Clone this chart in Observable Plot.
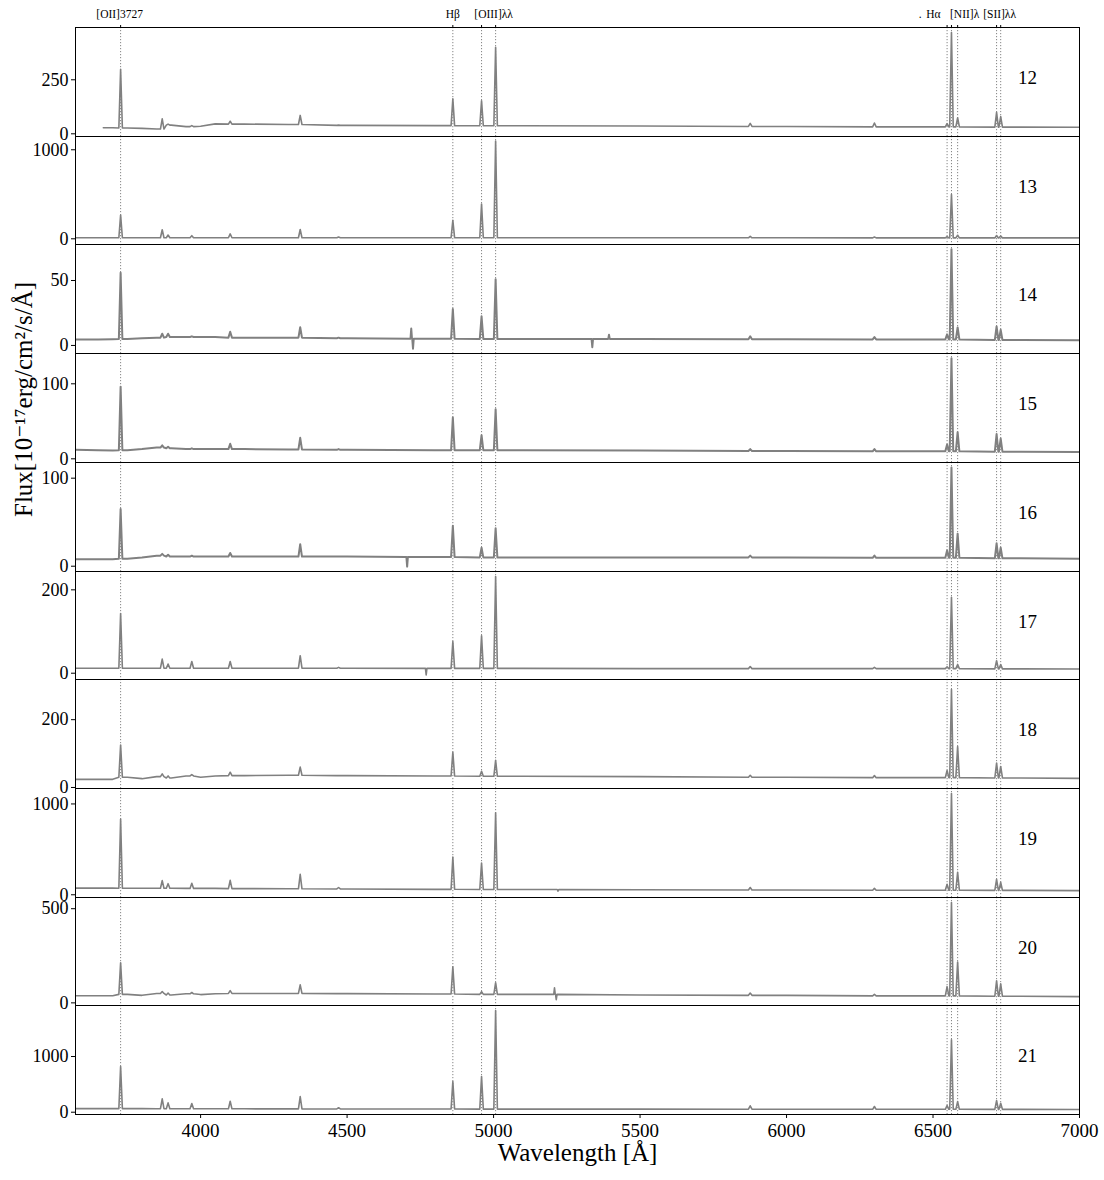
<!DOCTYPE html>
<html><head><meta charset="utf-8">
<script src="https://cdn.jsdelivr.net/npm/d3@7"></script>
<script src="https://cdn.jsdelivr.net/npm/@observablehq/plot@0.6"></script>
<style>
body{margin:0;background:#fff;}
#chart{position:relative;width:1104px;height:1180px;background:#fff;}
#chart svg{position:absolute;left:0;overflow:visible;}
</style></head><body><div id="chart"></div>
<script>
// ---------------- data ----------------
const panelNames = ["12","13","14","15","16","17","18","19","20","21"];
const xTicks = [4000, 4500, 5000, 5500, 6000, 6500, 7000];
const yTicks = [[0,250],[0,1000],[0,50],[0,100],[0,100],[0,200],[0,200],[0,1000],[0,500],[0,1000]];
const yDomains = [[-12.5,492],[-64,1149],[-6.2,77.7],[-4.9,140.4],[-6,117.8],[-15.1,244],[-3,318.5],[-30,1170],[-14,559.5],[-41,1916]];
const markerWaves = [3727, 4861, 4959, 5007, 6548, 6563, 6584, 6717, 6731];
const spectrumStart = [3668, 3573, 3573, 3573, 3573, 3573, 3573, 3573, 3573, 3573];
const contWaves = [3573, 3650, 3700, 3750, 3800, 3850, 3900, 3950, 4000, 4050, 4150, 4300, 4500, 4800, 5100, 5500, 6000, 6500, 6800, 7000];
const contFlux = [
  [null, null, 28, 27, 25, 22, 40, 33, 35, 46, 45, 43, 39, 38, 37, 36, 34, 32, 31, 30],
  [12, 12, 12, 12, 12, 12, 12, 12, 12, 12, 12, 12, 12, 12, 12, 11, 11, 10, 10, 10],
  [4.5, 4.5, 4.8, 5, 5.5, 6, 6.5, 6.5, 6.5, 6.5, 6, 6, 5.5, 5.2, 5, 5, 4.8, 4.6, 4.2, 4],
  [12, 11.5, 11, 11.5, 13, 15, 14, 13, 13, 13, 13, 12.5, 12, 11.5, 11.5, 11, 10.5, 10, 9.5, 9],
  [8, 8, 8, 8.5, 10, 12, 11, 11, 11, 11, 11, 11, 11, 10.5, 10, 10, 10, 9.5, 9, 8.5],
  [12, 12, 12, 12, 12, 12, 12, 12, 12, 12, 12, 12, 12, 11.5, 11.5, 11, 11, 11, 10.5, 10],
  [24, 24, 24, 30, 26, 32, 28, 34, 30, 34, 35, 36, 35, 34, 33, 32, 30, 29, 28, 27],
  [73, 73, 73, 72, 72, 72, 72, 70, 70, 70, 68, 66, 64, 60, 58, 55, 52, 50, 48, 46],
  [38, 38, 38, 45, 40, 50, 42, 48, 44, 48, 50, 50, 49, 47, 45, 42, 40, 37, 35, 33],
  [65, 65, 65, 64, 64, 63, 63, 62, 62, 61, 61, 60, 59, 58, 56, 55, 54, 52, 51, 50]
];
const lineWaves = [3727, 3869, 3889, 3970, 4101, 4340, 4471, 4861, 4959, 5007, 5876, 6300, 6548, 6563, 6584, 6717, 6731];
const linePeaks = [
  [298, 69, 45, 38, 58, 85, 40, 162, 153, 400, 48, 50, 47, 469, 74, 99, 80],
  [268, 102, 42, 35, 55, 104, 20, 208, 390, 1098, 28, 20, 25, 498, 40, 36, 30],
  [56, 9, 9, 7, 10.5, 14, 6, 28, 22.5, 51, 7, 6.4, 8.5, 74, 13.8, 14.6, 12],
  [96, 18, 16, 14, 20, 28, 13, 55, 31.5, 66, 13, 13, 19, 134, 35.5, 33, 27],
  [65, 14, 13, 12, 15, 25, 11, 46, 21, 43, 12, 12, 18, 112, 37, 26, 21],
  [143, 34, 22, 28, 28, 42, 14, 76, 90, 232, 16, 14, 15, 182, 21, 30, 21],
  [125, 40, 34, 38, 45, 60, 35, 104, 48, 80, 36, 35, 50, 289, 121, 72, 62],
  [833, 156, 122, 126, 159, 226, 80, 414, 348, 903, 80, 70, 115, 1115, 248, 170, 137],
  [213, 60, 52, 55, 65, 96, 50, 191, 59, 107, 52, 45, 86, 533, 217, 117, 101],
  [820, 240, 168, 155, 197, 282, 80, 550, 640, 1826, 115, 102, 120, 1300, 190, 208, 160]
];
// artefacts (spikes / dips)
const extraPanel = [2, 2, 2, 2, 4, 5, 7, 8, 8];
const extraWave  = [4719, 4725, 5337, 5394, 4705, 4770, 5220, 5208, 5214];
const extraFlux  = [13, -2.5, -1.3, 8.2, -0.4, -4, 40, 80, 17];
const yLabel = "Flux[10⁻¹⁷erg/cm²/s/Å]";
const xLabel = "Wavelength [Å]";
const labelWave = 6790;

// ---------------- build ----------------
function nearestCont(k, w) {
  let best = null, bd = Infinity;
  contWaves.forEach((cw, i) => {
    const v = contFlux[k][i];
    if (v == null) return;
    const d = Math.abs(cw - w);
    if (d < bd) { bd = d; best = v; }
  });
  return best;
}
function spectrum(k) {
  const s = spectrumStart[k];
  const pts = [];
  pts.push({w: s, f: nearestCont(k, s)});
  contWaves.forEach((cw, i) => {
    const v = contFlux[k][i];
    if (v != null && cw > s) pts.push({w: cw, f: v});
  });
  const hw = 6;
  lineWaves.forEach((lw, i) => {
    if (lw < s) return;
    const b = nearestCont(k, lw);
    pts.push({w: lw - hw, f: b}, {w: lw, f: linePeaks[k][i]}, {w: lw + hw, f: b});
  });
  extraWave.forEach((ew, i) => {
    if (extraPanel[i] !== k) return;
    const b = nearestCont(k, ew);
    pts.push({w: ew - 2.5, f: b}, {w: ew, f: extraFlux[i]}, {w: ew + 2.5, f: b});
  });
  pts.sort((a, b) => a.w - b.w);
  return pts;
}

const chart = document.getElementById("chart");
const T = k => Math.round(27 + k * 108.7);
const font = "'Liberation Serif', 'DejaVu Serif', serif";

for (let k = 0; k < 10; k++) {
  const isTop = k === 0, isBottom = k === 9;
  const mt = isTop ? 27 : 1, mb = isBottom ? 66 : 1;
  const h = T(k + 1) - T(k);
  const sw = (k >= 2 && k <= 4) ? 2.0 : 1.6;
  const marks = [
    Plot.ruleX(markerWaves, {stroke: "#666", strokeWidth: 0.8, strokeDasharray: "1.2,1.8"}),
    Plot.line(spectrum(k), {x: "w", y: "f", stroke: "gray", strokeWidth: sw, clip: true}),
    Plot.frame({stroke: "black", strokeWidth: 1}),
    Plot.axisY({ticks: yTicks[k], tickSize: 4, tickPadding: 3, fontSize: 18, label: null, tickFormat: d3.format("d")}),
    Plot.text([panelNames[k]], {x: () => labelWave, frameAnchor: "top", dy: 43, textAnchor: "start", fontSize: 19})
  ];
  if (isBottom) {
    marks.push(Plot.axisX({ticks: xTicks, tickSize: 4, tickPadding: 5, fontSize: 19, label: null, tickFormat: d3.format("d")}));
    marks.push(Plot.text([xLabel], {frameAnchor: "bottom", dy: 46, fontSize: 25}));
  } else if (isTop) {
    marks.push(Plot.axisX({anchor: "top", ticks: markerWaves, tickSize: 3, tickFormat: () => "", label: null}));
    const lab = (w, t, dx) => Plot.text([t], {x: () => w, frameAnchor: "top", dy: -18, dx, fontSize: 11.5});
    marks.push(lab(3727, "[OII]3727", -1));
    marks.push(lab(4861, "Hβ", 0));
    marks.push(lab(5007, "[OIII]λλ", -2));
    marks.push(lab(6548, ".", -27));
    marks.push(lab(6563, "Hα", -18));
    marks.push(lab(6584, "[NII]λ", 7));
    marks.push(lab(6717, "[SII]λλ", 3));
  } else {
    marks.push(Plot.axisX({ticks: [], label: null}));
  }
  if (k === 4) {
    marks.push(Plot.text([yLabel], {frameAnchor: "left", rotate: -90, dx: -52, fontSize: 25}));
  }
  const svg = Plot.plot({
    width: 1104, height: h + mt + mb,
    marginLeft: 75, marginRight: 25, marginTop: mt, marginBottom: mb,
    style: {fontFamily: font, fontSize: "19px", overflow: "visible", background: "transparent", color: "black"},
    x: {domain: [3573, 7000]},
    y: {domain: yDomains[k]},
    marks
  });
  svg.style.top = (T(k) - mt) + "px";
  chart.appendChild(svg);
}
</script></body></html>
